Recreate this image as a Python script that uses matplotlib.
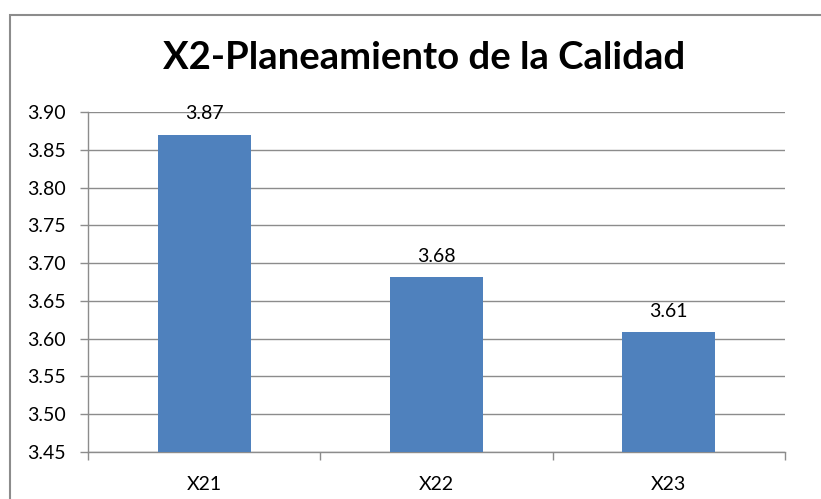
import matplotlib
matplotlib.use("Agg")
import matplotlib.pyplot as plt
from matplotlib.patches import Rectangle
import numpy as np

categories = ["X21", "X22", "X23"]
values = [3.87, 3.681, 3.609]
labels = ["3.87", "3.68", "3.61"]
yticks = [3.45, 3.50, 3.55, 3.60, 3.65, 3.70, 3.75, 3.80, 3.85, 3.90]

W, H = 821, 499
fig = plt.figure(figsize=(W / 100, H / 100), dpi=100)
fig.patch.set_facecolor("white")

# outer chart border
fig.patches.append(Rectangle((10 / W, -0.2), 1.5, 1.2 - 15 / H,
                             transform=fig.transFigure, fill=False,
                             edgecolor="#8c8c8c", linewidth=1.5, zorder=0))

ax = fig.add_axes([88 / W, 1 - 452 / H, (785 - 88) / W, (452 - 112) / H])
x = np.arange(len(categories))
ax.bar(x, values, width=0.4, color="#4F81BD", zorder=3)
ax.set_xlim(-0.5, len(categories) - 0.5)
ax.set_ylim(3.45, 3.90)
ax.set_yticks(yticks)
ax.set_yticklabels([f"{t:.2f}" for t in yticks])
ax.yaxis.grid(True, color="#8c8c8c", linewidth=1.0, zorder=0)
ax.set_axisbelow(True)

ax.set_xticks(np.arange(-0.5, len(categories), 1.0))
ax.set_xticklabels([""] * (len(categories) + 1))
ax.set_xticks(x, minor=True)
ax.set_xticklabels(categories, minor=True)
ax.tick_params(axis="x", which="minor", length=0, pad=17)
ax.tick_params(axis="x", which="major", length=6, color="#8c8c8c", width=1.0)
ax.tick_params(axis="y", length=6, color="#8c8c8c", width=1.0, pad=10)

FS = 14
for lab in ax.get_yticklabels() + ax.get_xticklabels(minor=True):
    lab.set_fontfamily("Lato")
    lab.set_fontsize(FS)
    lab.set_color("#000000")

for sp in ["top", "right"]:
    ax.spines[sp].set_visible(False)
for sp in ["left", "bottom"]:
    ax.spines[sp].set_color("#8c8c8c")
    ax.spines[sp].set_linewidth(1.0)

for xi, v, lab in zip(x, values, labels):
    ax.annotate(lab, (xi, v), xytext=(0, 11), textcoords="offset points",
                ha="center", va="baseline", fontfamily="Lato", fontsize=FS,
                color="#000000")

fig.text(424 / W, 1 - 58 / H, "X2-Planeamiento de la Calidad", ha="center",
         va="center", fontfamily="Lato", fontweight="bold", fontsize=27.5,
         color="#000000")

fig.savefig("out.png", dpi=100, facecolor="white")
